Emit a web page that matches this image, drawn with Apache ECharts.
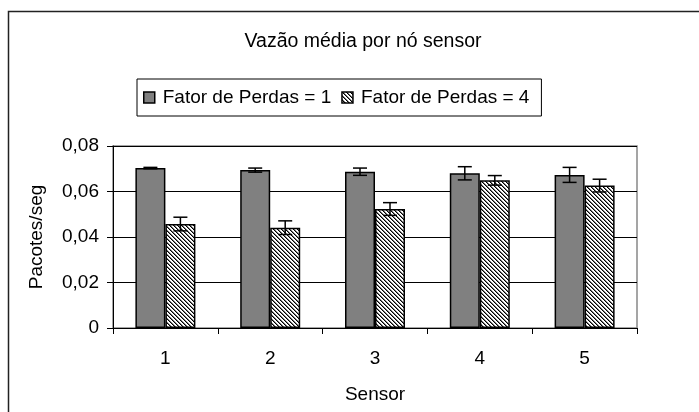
<!DOCTYPE html>
<html>
<head>
<meta charset="utf-8">
<script src="https://cdn.jsdelivr.net/npm/echarts@6/dist/echarts.min.js"></script>
<style>
html,body{margin:0;padding:0;background:#fff;}
#chart{width:699px;height:412px;}
</style>
</head>
<body>
<div id="chart"></div>
<script>
const categories = ['1', '2', '3', '4', '5'];
const seriesNames = ['Fator de Perdas = 1', 'Fator de Perdas = 4'];
const fator1 = [0.0703, 0.0694, 0.0687, 0.0680, 0.0673];
const fator1Err = [0.0003, 0.0009, 0.0016, 0.0029, 0.0033];
const fator4 = [0.0457, 0.0441, 0.0523, 0.0649, 0.0626];
const fator4Err = [0.0030, 0.0030, 0.0028, 0.0021, 0.0028];
const yMin = 0, yMax = 0.08, yStep = 0.02;

const FONT = '"Liberation Sans", Arial, sans-serif';
const BAR_W = 30;

// hatch pattern (\\\ diagonal)
const hatch = document.createElement('canvas');
hatch.width = 4; hatch.height = 4;
(function(){
  const ctx = hatch.getContext('2d');
  ctx.fillStyle = '#fff';
  ctx.fillRect(0, 0, 4, 4);
  for (let y = 0; y < 4; y++) {
    for (let x = 0; x < 4; x++) {
      const d = ((x - y) % 4 + 4) % 4;
      if (d === 0) { ctx.fillStyle = '#000'; ctx.fillRect(x, y, 1, 1); }
      if (d === 1) { ctx.fillStyle = '#777'; ctx.fillRect(x, y, 1, 1); }
    }
  }
})();
const hatchPattern = { image: hatch, repeat: 'repeat' };

function errorSeries(means, errs, offset) {
  return {
    type: 'custom',
    z: 10,
    silent: true,
    data: means.map((m, i) => [i, m, errs[i]]),
    renderItem: function (params, api) {
      const i = api.value(0), m = api.value(1), e = api.value(2);
      const top = api.coord([i, m + e]);
      const bot = api.coord([i, m - e]);
      const x = top[0] + offset;
      const cap = 7;
      const style = { stroke: '#000', lineWidth: 1.5 };
      return {
        type: 'group',
        children: [
          { type: 'line', shape: { x1: x, y1: top[1], x2: x, y2: bot[1] }, style: style },
          { type: 'line', shape: { x1: x - cap, y1: top[1], x2: x + cap, y2: top[1] }, style: style },
          { type: 'line', shape: { x1: x - cap, y1: bot[1], x2: x + cap, y2: bot[1] }, style: style }
        ]
      };
    }
  };
}

const chart = echarts.init(document.getElementById('chart'), null, { renderer: 'canvas' });
chart.setOption({
  animation: false,
  backgroundColor: '#fff',
  textStyle: { fontFamily: FONT, color: '#000' },
  title: {
    text: 'Vazão média por nó sensor',
    left: 358, top: 27, textAlign: 'center',
    textStyle: { fontFamily: FONT, fontSize: 19.5, fontWeight: 'normal', color: '#000' }
  },
  legend: {
    data: seriesNames,
    left: 137, top: 79,
    orient: 'horizontal',
    icon: 'rect',
    itemWidth: 11, itemHeight: 11,
    itemGap: 10,
    padding: [9, 12, 9, 6],
    borderColor: '#000', borderWidth: 1,
    backgroundColor: '#fff',
    textStyle: { fontFamily: FONT, fontSize: 19, color: '#000', padding: [0, 0, 0, 3] },
    itemStyle: { borderColor: '#000', borderWidth: 1.5 }
  },
  grid: { left: 113, right: 62, top: 146, bottom: 84, show: true, borderColor: '#888', borderWidth: 1.5, containLabel: false },
  xAxis: {
    type: 'category',
    data: categories,
    name: 'Sensor',
    nameLocation: 'middle',
    nameGap: 57,
    nameTextStyle: { fontFamily: FONT, fontSize: 19, color: '#000' },
    axisLine: { lineStyle: { color: '#000', width: 1 } },
    axisTick: { show: true, length: 6, alignWithLabel: false, lineStyle: { color: '#000' } },
    axisLabel: { fontFamily: FONT, fontSize: 19, color: '#000', margin: 21 },
    splitLine: { show: false }
  },
  yAxis: {
    type: 'value',
    min: yMin, max: yMax, interval: yStep,
    name: 'Pacotes/seg',
    nameLocation: 'middle',
    nameGap: 67,
    nameRotate: 90,
    nameTextStyle: { fontFamily: FONT, fontSize: 19, color: '#000' },
    axisLine: { show: true, lineStyle: { color: '#000', width: 1 } },
    axisTick: { show: true, length: 6, lineStyle: { color: '#000' } },
    axisLabel: {
      fontFamily: FONT, fontSize: 19, color: '#000', margin: 14,
      formatter: v => v === 0 ? '0' : v.toFixed(2).replace('.', ',')
    },
    splitLine: { show: true, lineStyle: { color: '#000', width: 1 } }
  },
  graphic: [
    { type: 'rect', shape: { x: 8.5, y: 11.5, width: 900, height: 600 }, style: { fill: 'none', stroke: '#222', lineWidth: 1.5 }, z: 100, silent: true }
  ],
  series: [
    {
      name: seriesNames[0], type: 'bar', data: fator1,
      barWidth: BAR_W, barGap: '0%',
      itemStyle: { color: '#808080', borderColor: '#000', borderWidth: 1.5 }
    },
    {
      name: seriesNames[1], type: 'bar', data: fator4,
      barWidth: BAR_W, barGap: '0%',
      itemStyle: { color: hatchPattern, borderColor: '#000', borderWidth: 1.5 }
    },
    errorSeries(fator1, fator1Err, -BAR_W / 2),
    errorSeries(fator4, fator4Err, BAR_W / 2)
  ]
});
</script>
</body>
</html>
